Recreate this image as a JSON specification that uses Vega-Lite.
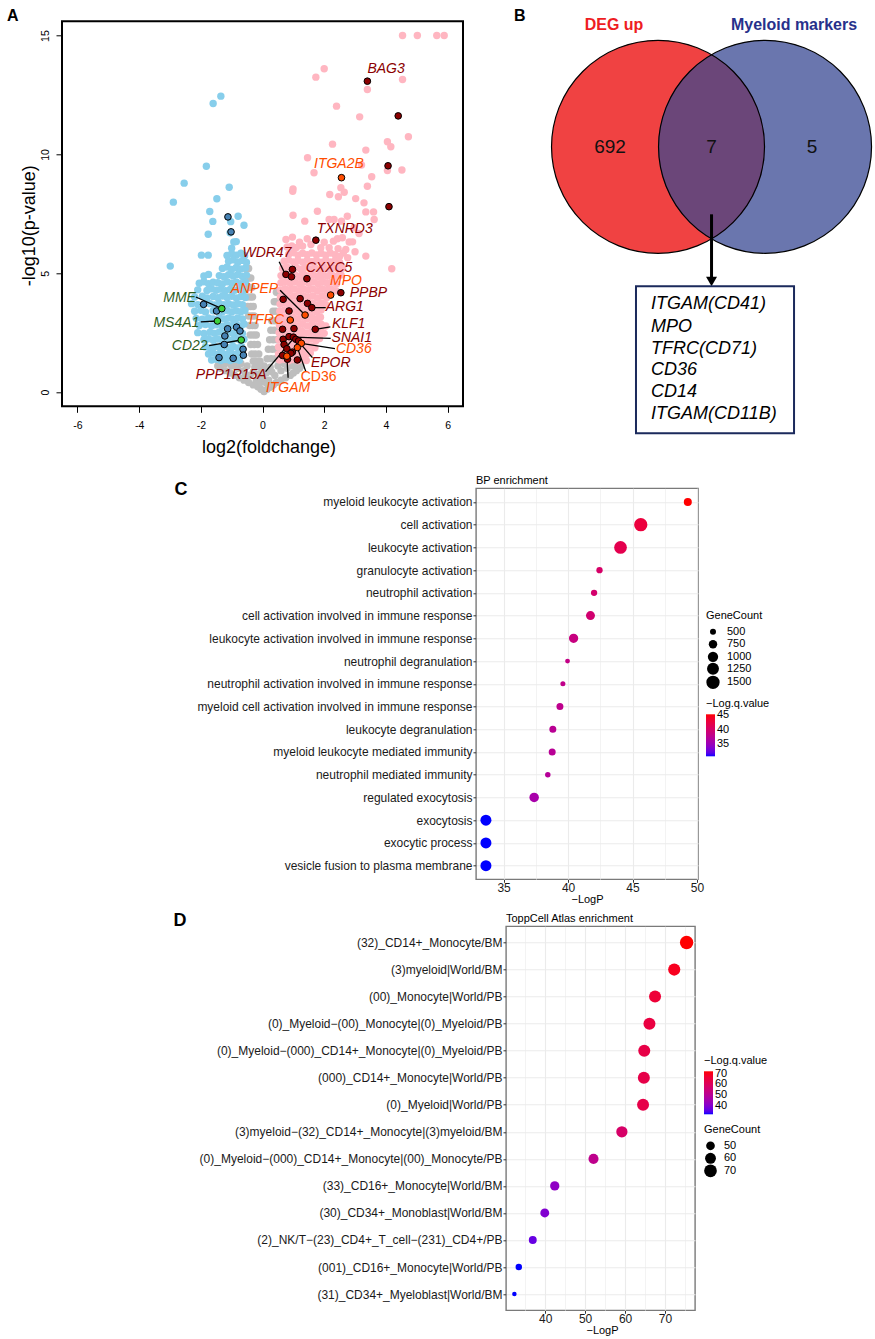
{
"$schema": "https://vega.github.io/schema/vega-lite/v6.json",
"padding": {"left": 6, "top": 6.3, "right": 0, "bottom": 0},
"background": "white",
"config": {"font": "Liberation Sans", "view": {"stroke": null}},
"spacing": 0,
"resolve": {"scale": {"color": "independent", "size": "independent", "x": "independent", "y": "independent"}, "legend": {"color": "independent", "size": "independent"}},
"datasets": {
"volcano": [
{"fc":0.05,"lp":0.02,"g":"ns"},{"fc":-0.05,"lp":0.12,"g":"ns"},{"fc":0.15,"lp":0.12,"g":"ns"},{"fc":-0.15,"lp":0.22,"g":"ns"},{"fc":0.25,"lp":0.2,"g":"ns"},{"fc":-0.3,"lp":0.3,"g":"ns"},{"fc":0.35,"lp":0.3,"g":"ns"},{"fc":-0.45,"lp":0.4,"g":"ns"},{"fc":0.45,"lp":0.4,"g":"ns"},{"fc":-0.6,"lp":0.5,"g":"ns"},{"fc":0.6,"lp":0.5,"g":"ns"},{"fc":-0.75,"lp":0.6,"g":"ns"},{"fc":0.75,"lp":0.6,"g":"ns"},{"fc":-0.9,"lp":0.7,"g":"ns"},{"fc":0.9,"lp":0.7,"g":"ns"},{"fc":-1.05,"lp":0.8,"g":"ns"},{"fc":1.0,"lp":0.8,"g":"ns"},{"fc":-1.2,"lp":0.9,"g":"ns"},{"fc":1.1,"lp":0.9,"g":"ns"},{"fc":-1.35,"lp":1.0,"g":"ns"},{"fc":1.2,"lp":1.0,"g":"ns"},{"fc":-1.45,"lp":1.1,"g":"ns"},{"fc":1.25,"lp":1.1,"g":"ns"},{"fc":-0.2,"lp":0.5,"g":"ns"},{"fc":0.2,"lp":0.5,"g":"ns"},{"fc":-0.4,"lp":0.7,"g":"ns"},{"fc":0.4,"lp":0.7,"g":"ns"},{"fc":-0.6,"lp":0.9,"g":"ns"},{"fc":0.6,"lp":0.9,"g":"ns"},{"fc":-0.8,"lp":1.0,"g":"ns"},{"fc":0.8,"lp":1.0,"g":"ns"},{"fc":-1.0,"lp":1.1,"g":"ns"},{"fc":1.0,"lp":1.1,"g":"ns"},{"fc":-1.2,"lp":1.2,"g":"ns"},{"fc":-0.3,"lp":0.85,"g":"ns"},{"fc":0.3,"lp":0.85,"g":"ns"},{"fc":-0.5,"lp":1.1,"g":"ns"},{"fc":0.5,"lp":1.1,"g":"ns"},{"fc":-0.7,"lp":1.2,"g":"ns"},{"fc":0.7,"lp":1.2,"g":"ns"},{"fc":-0.9,"lp":1.25,"g":"ns"},{"fc":0.95,"lp":1.2,"g":"ns"},{"fc":-0.1,"lp":0.35,"g":"ns"},{"fc":0.1,"lp":0.4,"g":"ns"},{"fc":-0.55,"lp":0.75,"g":"ns"},{"fc":1.15,"lp":1.25,"g":"ns"},{"fc":-1.4,"lp":1.25,"g":"ns"},{"fc":-0.25,"lp":1.05,"g":"ns"},{"fc":0.25,"lp":1.05,"g":"ns"},{"fc":0.0,"lp":0.6,"g":"ns"},{"fc":0.0,"lp":0.9,"g":"ns"},{"fc":0.05,"lp":1.1,"g":"ns"},{"fc":-0.12,"lp":0.75,"g":"ns"},{"fc":0.12,"lp":0.8,"g":"ns"},{"fc":-0.1,"lp":1.05,"g":"ns"},
{"fc":-0.55,"lp":5.2,"g":"ns"},{"fc":-0.45,"lp":5.2,"g":"ns"},{"fc":-0.55,"lp":4.8,"g":"ns"},{"fc":-0.45,"lp":4.8,"g":"ns"},{"fc":-0.38,"lp":4.8,"g":"ns"},{"fc":-0.52,"lp":4.4,"g":"ns"},{"fc":-0.42,"lp":4.4,"g":"ns"},{"fc":-0.35,"lp":4.4,"g":"ns"},{"fc":-0.5,"lp":4.0,"g":"ns"},{"fc":-0.4,"lp":4.0,"g":"ns"},{"fc":-0.32,"lp":4.0,"g":"ns"},{"fc":-0.48,"lp":3.6,"g":"ns"},{"fc":-0.38,"lp":3.6,"g":"ns"},{"fc":-0.3,"lp":3.6,"g":"ns"},{"fc":-0.45,"lp":3.2,"g":"ns"},{"fc":-0.35,"lp":3.2,"g":"ns"},{"fc":-0.27,"lp":3.2,"g":"ns"},{"fc":-0.42,"lp":2.8,"g":"ns"},{"fc":-0.32,"lp":2.8,"g":"ns"},{"fc":-0.24,"lp":2.8,"g":"ns"},{"fc":-0.4,"lp":2.4,"g":"ns"},{"fc":-0.3,"lp":2.4,"g":"ns"},{"fc":-0.2,"lp":2.4,"g":"ns"},{"fc":-0.38,"lp":2.0,"g":"ns"},{"fc":-0.27,"lp":2.0,"g":"ns"},{"fc":-0.16,"lp":2.0,"g":"ns"},{"fc":-0.35,"lp":1.6,"g":"ns"},{"fc":-0.24,"lp":1.6,"g":"ns"},{"fc":-0.12,"lp":1.6,"g":"ns"},{"fc":-0.3,"lp":1.3,"g":"ns"},{"fc":-0.2,"lp":1.3,"g":"ns"},{"fc":-0.08,"lp":1.3,"g":"ns"},
{"fc":0.55,"lp":4.2,"g":"ns"},{"fc":0.45,"lp":4.2,"g":"ns"},{"fc":0.55,"lp":3.8,"g":"ns"},{"fc":0.45,"lp":3.8,"g":"ns"},{"fc":0.38,"lp":3.8,"g":"ns"},{"fc":0.55,"lp":3.4,"g":"ns"},{"fc":0.43,"lp":3.4,"g":"ns"},{"fc":0.34,"lp":3.4,"g":"ns"},{"fc":0.52,"lp":3.0,"g":"ns"},{"fc":0.4,"lp":3.0,"g":"ns"},{"fc":0.3,"lp":3.0,"g":"ns"},{"fc":0.5,"lp":2.6,"g":"ns"},{"fc":0.38,"lp":2.6,"g":"ns"},{"fc":0.27,"lp":2.6,"g":"ns"},{"fc":0.47,"lp":2.2,"g":"ns"},{"fc":0.35,"lp":2.2,"g":"ns"},{"fc":0.23,"lp":2.2,"g":"ns"},{"fc":0.45,"lp":1.8,"g":"ns"},{"fc":0.32,"lp":1.8,"g":"ns"},{"fc":0.19,"lp":1.8,"g":"ns"},{"fc":0.42,"lp":1.4,"g":"ns"},{"fc":0.28,"lp":1.4,"g":"ns"},{"fc":0.15,"lp":1.4,"g":"ns"},
{"fc":-1.6,"lp":12.14,"g":"down"},{"fc":-1.35,"lp":12.45,"g":"down"},{"fc":-1.82,"lp":9.5,"g":"down"},{"fc":-2.54,"lp":8.79,"g":"down"},{"fc":-2.89,"lp":7.99,"g":"down"},{"fc":-1.48,"lp":8.13,"g":"down"},{"fc":-1.08,"lp":8.62,"g":"down"},{"fc":-1.71,"lp":7.6,"g":"down"},{"fc":-1.61,"lp":7.18,"g":"down"},{"fc":-0.79,"lp":7.4,"g":"down"},{"fc":-0.6,"lp":7.02,"g":"down"},{"fc":-1.76,"lp":6.64,"g":"down"},{"fc":-1.05,"lp":6.7,"g":"down"},{"fc":-1.03,"lp":7.17,"g":"down"},{"fc":-0.93,"lp":6.31,"g":"down"},{"fc":-0.85,"lp":6.33,"g":"down"},{"fc":-1.98,"lp":5.76,"g":"down"},{"fc":-1.76,"lp":5.76,"g":"down"},{"fc":-2.99,"lp":5.3,"g":"down"},{"fc":-1.15,"lp":5.75,"g":"down"},{"fc":-1.0,"lp":6.05,"g":"down"},
{"fc":-1.0,"lp":5.82,"g":"down"},{"fc":-0.85,"lp":5.76,"g":"down"},{"fc":-0.7,"lp":5.84,"g":"down"},{"fc":-0.58,"lp":5.74,"g":"down"},
{"fc":-1.1,"lp":5.5,"g":"down"},{"fc":-0.95,"lp":5.56,"g":"down"},{"fc":-0.8,"lp":5.46,"g":"down"},{"fc":-0.65,"lp":5.54,"g":"down"},{"fc":-0.52,"lp":5.45,"g":"down"},
{"fc":-1.3,"lp":5.2,"g":"down"},{"fc":-1.15,"lp":5.26,"g":"down"},{"fc":-1.0,"lp":5.16,"g":"down"},{"fc":-0.85,"lp":5.24,"g":"down"},{"fc":-0.7,"lp":5.18,"g":"down"},{"fc":-0.55,"lp":5.22,"g":"down"},
{"fc":-1.9,"lp":4.88,"g":"down"},{"fc":-1.75,"lp":4.95,"g":"down"},{"fc":-1.4,"lp":4.9,"g":"down"},{"fc":-1.25,"lp":4.85,"g":"down"},{"fc":-1.1,"lp":4.94,"g":"down"},{"fc":-0.95,"lp":4.88,"g":"down"},{"fc":-0.8,"lp":4.95,"g":"down"},{"fc":-0.65,"lp":4.86,"g":"down"},{"fc":-0.52,"lp":4.92,"g":"down"},
{"fc":-2.05,"lp":4.58,"g":"down"},{"fc":-1.9,"lp":4.64,"g":"down"},{"fc":-1.75,"lp":4.56,"g":"down"},{"fc":-1.6,"lp":4.62,"g":"down"},{"fc":-1.45,"lp":4.6,"g":"down"},{"fc":-1.3,"lp":4.55,"g":"down"},{"fc":-1.15,"lp":4.64,"g":"down"},{"fc":-1.0,"lp":4.58,"g":"down"},{"fc":-0.85,"lp":4.63,"g":"down"},{"fc":-0.7,"lp":4.56,"g":"down"},{"fc":-0.55,"lp":4.62,"g":"down"},
{"fc":-2.1,"lp":4.3,"g":"down"},{"fc":-1.8,"lp":4.27,"g":"down"},{"fc":-1.65,"lp":4.34,"g":"down"},{"fc":-1.5,"lp":4.28,"g":"down"},{"fc":-1.35,"lp":4.33,"g":"down"},{"fc":-1.2,"lp":4.26,"g":"down"},{"fc":-1.05,"lp":4.32,"g":"down"},{"fc":-0.9,"lp":4.28,"g":"down"},{"fc":-0.75,"lp":4.34,"g":"down"},{"fc":-0.6,"lp":4.27,"g":"down"},
{"fc":-2.2,"lp":4.0,"g":"down"},{"fc":-1.95,"lp":4.03,"g":"down"},{"fc":-1.8,"lp":3.96,"g":"down"},{"fc":-1.6,"lp":4.02,"g":"down"},{"fc":-1.45,"lp":3.97,"g":"down"},{"fc":-1.3,"lp":4.04,"g":"down"},{"fc":-1.15,"lp":3.98,"g":"down"},{"fc":-1.0,"lp":4.03,"g":"down"},{"fc":-0.85,"lp":3.96,"g":"down"},{"fc":-0.7,"lp":4.02,"g":"down"},{"fc":-0.56,"lp":3.98,"g":"down"},
{"fc":-2.3,"lp":3.72,"g":"down"},{"fc":-2.1,"lp":3.68,"g":"down"},{"fc":-1.7,"lp":3.72,"g":"down"},{"fc":-1.55,"lp":3.66,"g":"down"},{"fc":-1.4,"lp":3.73,"g":"down"},{"fc":-1.25,"lp":3.68,"g":"down"},{"fc":-1.1,"lp":3.72,"g":"down"},{"fc":-0.95,"lp":3.66,"g":"down"},{"fc":-0.8,"lp":3.72,"g":"down"},{"fc":-0.65,"lp":3.68,"g":"down"},
{"fc":-2.2,"lp":3.4,"g":"down"},{"fc":-2.0,"lp":3.44,"g":"down"},{"fc":-1.85,"lp":3.37,"g":"down"},{"fc":-1.6,"lp":3.42,"g":"down"},{"fc":-1.3,"lp":3.38,"g":"down"},{"fc":-1.15,"lp":3.44,"g":"down"},{"fc":-1.0,"lp":3.37,"g":"down"},{"fc":-0.85,"lp":3.42,"g":"down"},{"fc":-0.7,"lp":3.38,"g":"down"},{"fc":-0.57,"lp":3.43,"g":"down"},
{"fc":-2.15,"lp":3.1,"g":"down"},{"fc":-1.95,"lp":3.06,"g":"down"},{"fc":-1.75,"lp":3.12,"g":"down"},{"fc":-1.6,"lp":3.07,"g":"down"},{"fc":-1.4,"lp":3.13,"g":"down"},{"fc":-1.25,"lp":3.08,"g":"down"},{"fc":-1.1,"lp":3.12,"g":"down"},{"fc":-0.95,"lp":3.06,"g":"down"},{"fc":-0.8,"lp":3.12,"g":"down"},{"fc":-0.65,"lp":3.08,"g":"down"},
{"fc":-2.05,"lp":2.8,"g":"down"},{"fc":-1.85,"lp":2.84,"g":"down"},{"fc":-1.65,"lp":2.78,"g":"down"},{"fc":-1.5,"lp":2.83,"g":"down"},{"fc":-1.3,"lp":2.77,"g":"down"},{"fc":-1.15,"lp":2.83,"g":"down"},{"fc":-1.0,"lp":2.79,"g":"down"},{"fc":-0.85,"lp":2.84,"g":"down"},{"fc":-0.7,"lp":2.78,"g":"down"},{"fc":-0.6,"lp":2.86,"g":"down"},
{"fc":-2.1,"lp":2.5,"g":"down"},{"fc":-1.9,"lp":2.46,"g":"down"},{"fc":-1.7,"lp":2.52,"g":"down"},{"fc":-1.55,"lp":2.47,"g":"down"},{"fc":-1.4,"lp":2.53,"g":"down"},{"fc":-1.25,"lp":2.47,"g":"down"},{"fc":-1.1,"lp":2.52,"g":"down"},{"fc":-0.95,"lp":2.46,"g":"down"},{"fc":-0.8,"lp":2.52,"g":"down"},{"fc":-0.65,"lp":2.47,"g":"down"},
{"fc":-1.9,"lp":2.2,"g":"down"},{"fc":-1.75,"lp":2.24,"g":"down"},{"fc":-1.6,"lp":2.18,"g":"down"},{"fc":-1.45,"lp":2.23,"g":"down"},{"fc":-1.3,"lp":2.17,"g":"down"},{"fc":-1.15,"lp":2.23,"g":"down"},{"fc":-1.0,"lp":2.18,"g":"down"},{"fc":-0.85,"lp":2.24,"g":"down"},{"fc":-0.72,"lp":2.18,"g":"down"},{"fc":-0.6,"lp":2.22,"g":"down"},
{"fc":-1.85,"lp":1.9,"g":"down"},{"fc":-1.7,"lp":1.86,"g":"down"},{"fc":-1.55,"lp":1.92,"g":"down"},{"fc":-1.4,"lp":1.87,"g":"down"},{"fc":-1.25,"lp":1.93,"g":"down"},{"fc":-1.1,"lp":1.87,"g":"down"},{"fc":-0.95,"lp":1.92,"g":"down"},{"fc":-0.8,"lp":1.86,"g":"down"},{"fc":-0.68,"lp":1.92,"g":"down"},
{"fc":-1.75,"lp":1.6,"g":"down"},{"fc":-1.6,"lp":1.64,"g":"down"},{"fc":-1.45,"lp":1.58,"g":"down"},{"fc":-1.3,"lp":1.63,"g":"down"},{"fc":-1.15,"lp":1.58,"g":"down"},{"fc":-1.0,"lp":1.63,"g":"down"},{"fc":-0.85,"lp":1.58,"g":"down"},{"fc":-0.72,"lp":1.64,"g":"down"},
{"fc":-1.65,"lp":1.35,"g":"down"},{"fc":-1.5,"lp":1.38,"g":"down"},{"fc":-1.35,"lp":1.33,"g":"down"},{"fc":-1.2,"lp":1.37,"g":"down"},{"fc":-1.05,"lp":1.33,"g":"down"},{"fc":-0.9,"lp":1.38,"g":"down"},{"fc":-0.75,"lp":1.34,"g":"down"},
{"fc":4.54,"lp":15,"g":"up"},{"fc":5.02,"lp":15,"g":"up"},{"fc":5.65,"lp":15,"g":"up"},{"fc":5.89,"lp":15,"g":"up"},{"fc":2.0,"lp":13.6,"g":"up"},{"fc":1.73,"lp":13.25,"g":"up"},{"fc":3.4,"lp":12.73,"g":"up"},{"fc":4.54,"lp":13.15,"g":"up"},{"fc":2.4,"lp":12.03,"g":"up"},{"fc":3.15,"lp":11.58,"g":"up"},{"fc":4.73,"lp":10.74,"g":"up"},{"fc":2.27,"lp":10.43,"g":"up"},{"fc":4.05,"lp":10.53,"g":"up"},{"fc":4.16,"lp":10.32,"g":"up"},{"fc":3.35,"lp":10.18,"g":"up"},{"fc":1.46,"lp":9.86,"g":"up"},{"fc":3.21,"lp":9.55,"g":"up"},{"fc":1.67,"lp":9.23,"g":"up"},{"fc":3.54,"lp":9.06,"g":"up"},{"fc":4.05,"lp":9.32,"g":"up"},{"fc":4.52,"lp":9.34,"g":"up"},{"fc":2.54,"lp":8.6,"g":"up"},{"fc":2.65,"lp":8.41,"g":"up"},{"fc":0.99,"lp":8.55,"g":"up"},{"fc":0.98,"lp":8.45,"g":"up"},{"fc":2.18,"lp":8.31,"g":"up"},{"fc":2.46,"lp":8.22,"g":"up"},{"fc":3.02,"lp":8.14,"g":"up"},{"fc":3.29,"lp":7.96,"g":"up"},{"fc":3.35,"lp":7.58,"g":"up"},{"fc":3.6,"lp":7.58,"g":"up"},{"fc":3.62,"lp":7.26,"g":"up"},{"fc":0.99,"lp":7.44,"g":"up"},{"fc":1.37,"lp":7.19,"g":"up"},{"fc":2.16,"lp":7.26,"g":"up"},{"fc":2.56,"lp":7.19,"g":"up"},{"fc":2.97,"lp":6.91,"g":"up"},{"fc":3.13,"lp":6.67,"g":"up"},{"fc":2.43,"lp":6.45,"g":"up"},{"fc":2.81,"lp":6.31,"g":"up"},{"fc":0.76,"lp":6.42,"g":"up"},{"fc":0.97,"lp":6.52,"g":"up"},{"fc":1.3,"lp":6.14,"g":"up"},{"fc":1.57,"lp":6.21,"g":"up"},{"fc":1.89,"lp":6.07,"g":"up"},{"fc":2.16,"lp":6.07,"g":"up"},{"fc":2.45,"lp":6.03,"g":"up"},{"fc":3.35,"lp":5.72,"g":"up"},{"fc":2.76,"lp":5.65,"g":"up"},{"fc":4.19,"lp":5.19,"g":"up"},{"fc":2.62,"lp":5.85,"g":"up"},{"fc":1.2,"lp":6.3,"g":"up"},{"fc":1.45,"lp":6.45,"g":"up"},{"fc":2.0,"lp":6.3,"g":"up"},{"fc":2.3,"lp":6.35,"g":"up"},{"fc":2.7,"lp":6.0,"g":"up"},{"fc":3.0,"lp":5.9,"g":"up"},{"fc":1.78,"lp":7.61,"g":"up"},{"fc":2.32,"lp":7.26,"g":"up"},{"fc":2.75,"lp":7.4,"g":"up"},{"fc":3.4,"lp":8.66,"g":"up"},{"fc":2.59,"lp":6.49,"g":"up"},{"fc":2.92,"lp":6.32,"g":"up"},
{"fc":0.8,"lp":6.1,"g":"up"},{"fc":0.95,"lp":6.15,"g":"up"},{"fc":1.1,"lp":6.08,"g":"up"},
{"fc":0.85,"lp":5.8,"g":"up"},{"fc":1.0,"lp":5.86,"g":"up"},{"fc":1.15,"lp":5.76,"g":"up"},{"fc":1.3,"lp":5.84,"g":"up"},{"fc":1.45,"lp":5.78,"g":"up"},{"fc":1.6,"lp":5.85,"g":"up"},{"fc":1.75,"lp":5.77,"g":"up"},{"fc":1.9,"lp":5.84,"g":"up"},{"fc":2.05,"lp":5.76,"g":"up"},{"fc":2.2,"lp":5.85,"g":"up"},{"fc":2.35,"lp":5.78,"g":"up"},{"fc":2.5,"lp":5.7,"g":"up"},
{"fc":0.7,"lp":5.5,"g":"up"},{"fc":0.85,"lp":5.55,"g":"up"},{"fc":1.0,"lp":5.47,"g":"up"},{"fc":1.15,"lp":5.54,"g":"up"},{"fc":1.3,"lp":5.46,"g":"up"},{"fc":1.45,"lp":5.55,"g":"up"},{"fc":1.6,"lp":5.48,"g":"up"},{"fc":1.75,"lp":5.54,"g":"up"},{"fc":1.9,"lp":5.46,"g":"up"},{"fc":2.05,"lp":5.55,"g":"up"},{"fc":2.2,"lp":5.47,"g":"up"},{"fc":2.35,"lp":5.53,"g":"up"},{"fc":2.5,"lp":5.45,"g":"up"},
{"fc":0.65,"lp":5.2,"g":"up"},{"fc":0.8,"lp":5.25,"g":"up"},{"fc":0.95,"lp":5.17,"g":"up"},{"fc":1.1,"lp":5.24,"g":"up"},{"fc":1.25,"lp":5.16,"g":"up"},{"fc":1.4,"lp":5.25,"g":"up"},{"fc":1.55,"lp":5.18,"g":"up"},{"fc":1.7,"lp":5.24,"g":"up"},{"fc":1.85,"lp":5.16,"g":"up"},{"fc":2.0,"lp":5.25,"g":"up"},{"fc":2.15,"lp":5.17,"g":"up"},{"fc":2.3,"lp":5.23,"g":"up"},{"fc":2.45,"lp":5.16,"g":"up"},{"fc":2.6,"lp":5.22,"g":"up"},
{"fc":0.6,"lp":4.9,"g":"up"},{"fc":0.75,"lp":4.95,"g":"up"},{"fc":0.9,"lp":4.87,"g":"up"},{"fc":1.05,"lp":4.94,"g":"up"},{"fc":1.2,"lp":4.86,"g":"up"},{"fc":1.35,"lp":4.95,"g":"up"},{"fc":1.5,"lp":4.88,"g":"up"},{"fc":1.65,"lp":4.94,"g":"up"},{"fc":1.8,"lp":4.86,"g":"up"},{"fc":1.95,"lp":4.95,"g":"up"},{"fc":2.1,"lp":4.87,"g":"up"},{"fc":2.25,"lp":4.93,"g":"up"},{"fc":2.4,"lp":4.86,"g":"up"},{"fc":2.55,"lp":4.92,"g":"up"},
{"fc":0.6,"lp":4.6,"g":"up"},{"fc":0.75,"lp":4.65,"g":"up"},{"fc":0.9,"lp":4.57,"g":"up"},{"fc":1.05,"lp":4.64,"g":"up"},{"fc":1.2,"lp":4.56,"g":"up"},{"fc":1.35,"lp":4.65,"g":"up"},{"fc":1.5,"lp":4.58,"g":"up"},{"fc":1.65,"lp":4.64,"g":"up"},{"fc":1.8,"lp":4.56,"g":"up"},{"fc":1.95,"lp":4.65,"g":"up"},{"fc":2.1,"lp":4.57,"g":"up"},{"fc":2.25,"lp":4.63,"g":"up"},{"fc":2.4,"lp":4.56,"g":"up"},
{"fc":0.58,"lp":4.3,"g":"up"},{"fc":0.73,"lp":4.35,"g":"up"},{"fc":0.88,"lp":4.27,"g":"up"},{"fc":1.03,"lp":4.34,"g":"up"},{"fc":1.18,"lp":4.26,"g":"up"},{"fc":1.33,"lp":4.35,"g":"up"},{"fc":1.48,"lp":4.28,"g":"up"},{"fc":1.63,"lp":4.34,"g":"up"},{"fc":1.78,"lp":4.26,"g":"up"},{"fc":1.93,"lp":4.35,"g":"up"},{"fc":2.08,"lp":4.27,"g":"up"},{"fc":2.23,"lp":4.33,"g":"up"},{"fc":2.38,"lp":4.26,"g":"up"},
{"fc":0.58,"lp":4.0,"g":"up"},{"fc":0.73,"lp":4.05,"g":"up"},{"fc":0.88,"lp":3.97,"g":"up"},{"fc":1.03,"lp":4.04,"g":"up"},{"fc":1.18,"lp":3.96,"g":"up"},{"fc":1.33,"lp":4.05,"g":"up"},{"fc":1.48,"lp":3.98,"g":"up"},{"fc":1.63,"lp":4.04,"g":"up"},{"fc":1.78,"lp":3.96,"g":"up"},{"fc":1.93,"lp":4.05,"g":"up"},{"fc":2.08,"lp":3.97,"g":"up"},
{"fc":0.57,"lp":3.7,"g":"up"},{"fc":0.72,"lp":3.75,"g":"up"},{"fc":0.87,"lp":3.67,"g":"up"},{"fc":1.02,"lp":3.74,"g":"up"},{"fc":1.17,"lp":3.66,"g":"up"},{"fc":1.32,"lp":3.75,"g":"up"},{"fc":1.47,"lp":3.68,"g":"up"},{"fc":1.62,"lp":3.74,"g":"up"},{"fc":1.77,"lp":3.66,"g":"up"},{"fc":1.92,"lp":3.75,"g":"up"},{"fc":2.05,"lp":3.67,"g":"up"},
{"fc":0.56,"lp":3.4,"g":"up"},{"fc":0.71,"lp":3.45,"g":"up"},{"fc":0.86,"lp":3.37,"g":"up"},{"fc":1.01,"lp":3.44,"g":"up"},{"fc":1.16,"lp":3.36,"g":"up"},{"fc":1.31,"lp":3.45,"g":"up"},{"fc":1.46,"lp":3.38,"g":"up"},{"fc":1.61,"lp":3.44,"g":"up"},{"fc":1.76,"lp":3.36,"g":"up"},{"fc":1.9,"lp":3.45,"g":"up"},
{"fc":0.55,"lp":3.1,"g":"up"},{"fc":0.7,"lp":3.15,"g":"up"},{"fc":0.85,"lp":3.07,"g":"up"},{"fc":1.0,"lp":3.14,"g":"up"},{"fc":1.15,"lp":3.06,"g":"up"},{"fc":1.3,"lp":3.15,"g":"up"},{"fc":1.45,"lp":3.08,"g":"up"},{"fc":1.6,"lp":3.14,"g":"up"},{"fc":1.75,"lp":3.06,"g":"up"},{"fc":1.88,"lp":3.15,"g":"up"},
{"fc":0.55,"lp":2.8,"g":"up"},{"fc":0.7,"lp":2.85,"g":"up"},{"fc":0.85,"lp":2.77,"g":"up"},{"fc":1.0,"lp":2.84,"g":"up"},{"fc":1.15,"lp":2.76,"g":"up"},{"fc":1.3,"lp":2.85,"g":"up"},{"fc":1.45,"lp":2.78,"g":"up"},{"fc":1.6,"lp":2.84,"g":"up"},{"fc":1.75,"lp":2.76,"g":"up"},{"fc":1.9,"lp":2.85,"g":"up"},{"fc":2.05,"lp":2.78,"g":"up"},
{"fc":0.54,"lp":2.5,"g":"up"},{"fc":0.69,"lp":2.55,"g":"up"},{"fc":0.84,"lp":2.47,"g":"up"},{"fc":0.99,"lp":2.54,"g":"up"},{"fc":1.14,"lp":2.46,"g":"up"},{"fc":1.29,"lp":2.55,"g":"up"},{"fc":1.44,"lp":2.48,"g":"up"},{"fc":1.59,"lp":2.54,"g":"up"},{"fc":1.74,"lp":2.46,"g":"up"},{"fc":1.89,"lp":2.55,"g":"up"},{"fc":2.0,"lp":2.47,"g":"up"},
{"fc":0.53,"lp":2.2,"g":"up"},{"fc":0.68,"lp":2.25,"g":"up"},{"fc":0.83,"lp":2.17,"g":"up"},{"fc":0.98,"lp":2.24,"g":"up"},{"fc":1.13,"lp":2.16,"g":"up"},{"fc":1.28,"lp":2.25,"g":"up"},{"fc":1.43,"lp":2.18,"g":"up"},{"fc":1.58,"lp":2.24,"g":"up"},{"fc":1.73,"lp":2.16,"g":"up"},{"fc":1.85,"lp":2.25,"g":"up"},
{"fc":0.52,"lp":1.9,"g":"up"},{"fc":0.67,"lp":1.95,"g":"up"},{"fc":0.82,"lp":1.87,"g":"up"},{"fc":0.97,"lp":1.94,"g":"up"},{"fc":1.12,"lp":1.86,"g":"up"},{"fc":1.27,"lp":1.95,"g":"up"},{"fc":1.42,"lp":1.88,"g":"up"},{"fc":1.57,"lp":1.94,"g":"up"},{"fc":1.7,"lp":1.86,"g":"up"},
{"fc":0.52,"lp":1.6,"g":"up"},{"fc":0.67,"lp":1.65,"g":"up"},{"fc":0.82,"lp":1.57,"g":"up"},{"fc":0.97,"lp":1.64,"g":"up"},{"fc":1.12,"lp":1.56,"g":"up"},{"fc":1.27,"lp":1.65,"g":"up"},{"fc":1.42,"lp":1.58,"g":"up"},{"fc":1.55,"lp":1.64,"g":"up"},
{"fc":0.55,"lp":1.35,"g":"up"},{"fc":0.7,"lp":1.38,"g":"up"},{"fc":0.85,"lp":1.32,"g":"up"},{"fc":1.0,"lp":1.37,"g":"up"},{"fc":1.15,"lp":1.32,"g":"up"},{"fc":1.3,"lp":1.38,"g":"up"},{"fc":1.42,"lp":1.33,"g":"up"},
{"fc":-1.12,"lp":7.37,"g":"downhl"},{"fc":-1.02,"lp":6.74,"g":"downhl"},{"fc":-1.91,"lp":3.69,"g":"downhl"},{"fc":-1.49,"lp":3.41,"g":"downhl"},{"fc":-1.13,"lp":2.66,"g":"downhl"},{"fc":-0.84,"lp":2.73,"g":"downhl"},{"fc":-0.73,"lp":2.57,"g":"downhl"},{"fc":-1.22,"lp":2.36,"g":"downhl"},{"fc":-1.24,"lp":2.0,"g":"downhl"},{"fc":-0.63,"lp":1.8,"g":"downhl"},{"fc":-0.62,"lp":1.55,"g":"downhl"},{"fc":-1.41,"lp":1.45,"g":"downhl"},{"fc":-0.95,"lp":1.42,"g":"downhl"},
{"fc":-1.32,"lp":3.51,"g":"marker"},{"fc":-1.46,"lp":2.99,"g":"marker"},{"fc":-0.69,"lp":2.19,"g":"marker"},
{"fc":3.4,"lp":13.08,"g":"uphl"},{"fc":4.4,"lp":11.62,"g":"uphl"},{"fc":4.07,"lp":9.52,"g":"uphl"},{"fc":4.1,"lp":7.8,"g":"uphl"},{"fc":1.73,"lp":6.39,"g":"uphl"},{"fc":0.76,"lp":4.95,"g":"uphl"},{"fc":0.97,"lp":5.16,"g":"uphl"},{"fc":0.94,"lp":4.85,"g":"uphl"},{"fc":1.44,"lp":4.77,"g":"uphl"},{"fc":2.54,"lp":4.18,"g":"uphl"},{"fc":0.67,"lp":3.9,"g":"uphl"},{"fc":1.22,"lp":3.93,"g":"uphl"},{"fc":1.46,"lp":3.73,"g":"uphl"},{"fc":1.6,"lp":3.55,"g":"uphl"},{"fc":0.86,"lp":3.41,"g":"uphl"},{"fc":0.65,"lp":2.64,"g":"uphl"},{"fc":1.02,"lp":2.67,"g":"uphl"},{"fc":1.71,"lp":2.64,"g":"uphl"},{"fc":0.67,"lp":2.22,"g":"uphl"},{"fc":0.86,"lp":2.33,"g":"uphl"},{"fc":1.0,"lp":2.31,"g":"uphl"},{"fc":0.7,"lp":2.0,"g":"uphl"},{"fc":1.08,"lp":2.22,"g":"uphl"},{"fc":1.17,"lp":2.15,"g":"uphl"},{"fc":0.79,"lp":1.82,"g":"uphl"},{"fc":0.65,"lp":1.54,"g":"uphl"},{"fc":0.97,"lp":1.68,"g":"uphl"},{"fc":0.81,"lp":1.38,"g":"uphl"},{"fc":1.13,"lp":1.35,"g":"uphl"},{"fc":0.92,"lp":1.63,"g":"uphl"},
{"fc":2.56,"lp":9.02,"g":"mye"},{"fc":2.21,"lp":4.08,"g":"mye"},{"fc":1.38,"lp":3.24,"g":"mye"},{"fc":0.9,"lp":3.03,"g":"mye"},{"fc":1.26,"lp":2.05,"g":"mye"},{"fc":1.13,"lp":1.87,"g":"mye"},{"fc":0.79,"lp":1.51,"g":"mye"}
],
"segs": [
{"gene":"WDR47","fc":0.54,"lp":5.48,"fc2":0.74,"lp2":4.95},
{"gene":"ANPEP","fc":0.57,"lp":4.28,"fc2":1.38,"lp2":3.24},
{"gene":"ARG1","fc":2.05,"lp":3.55,"fc2":1.6,"lp2":3.55},
{"gene":"KLF1","fc":2.2,"lp":2.74,"fc2":1.71,"lp2":2.64},
{"gene":"SNAI1","fc":2.21,"lp":2.26,"fc2":1.0,"lp2":2.31},
{"gene":"CD36","fc":2.35,"lp":1.83,"fc2":1.26,"lp2":2.05},
{"gene":"EPOR","fc":1.62,"lp":1.45,"fc2":1.22,"lp2":2.05},
{"gene":"CD36","fc":1.4,"lp":0.88,"fc2":1.13,"lp2":1.87},
{"gene":"PPP1R15A","fc":0.1,"lp":0.86,"fc2":0.97,"lp2":2.2},
{"gene":"ITGAM","fc":0.83,"lp":0.6,"fc2":0.79,"lp2":1.51},
{"gene":"MME","fc":-2.16,"lp":4.0,"fc2":-1.32,"lp2":3.51},
{"gene":"MS4A1","fc":-2.0,"lp":2.95,"fc2":-1.46,"lp2":2.99},
{"gene":"CD22","fc":-1.73,"lp":1.95,"fc2":-0.69,"lp2":2.19}
],
"labs": [
{"gene":"BAG3","fc":3.4,"lp":13.6,"g":"uphl","al":"l","st":"i"},
{"gene":"ITGA2B","fc":1.67,"lp":9.58,"g":"mye","al":"l","st":"i"},
{"gene":"TXNRD3","fc":1.76,"lp":6.84,"g":"uphl","al":"l","st":"i"},
{"gene":"WDR47","fc":-0.65,"lp":5.86,"g":"uphl","al":"l","st":"i"},
{"gene":"CXXC5","fc":1.4,"lp":5.23,"g":"uphl","al":"l","st":"i"},
{"gene":"MPO","fc":2.19,"lp":4.67,"g":"mye","al":"l","st":"i"},
{"gene":"PPBP","fc":2.83,"lp":4.18,"g":"uphl","al":"l","st":"i"},
{"gene":"ANPEP","fc":-1.03,"lp":4.35,"g":"mye","al":"l","st":"i"},
{"gene":"ARG1","fc":2.05,"lp":3.57,"g":"uphl","al":"l","st":"i"},
{"gene":"TFRC","fc":-0.51,"lp":3.03,"g":"mye","al":"l","st":"i"},
{"gene":"KLF1","fc":2.25,"lp":2.85,"g":"uphl","al":"l","st":"i"},
{"gene":"SNAI1","fc":2.24,"lp":2.29,"g":"uphl","al":"l","st":"i"},
{"gene":"CD36","fc":2.38,"lp":1.83,"g":"mye","al":"l","st":"i"},
{"gene":"EPOR","fc":1.57,"lp":1.24,"g":"uphl","al":"l","st":"i"},
{"gene":"CD36","fc":1.24,"lp":0.63,"g":"mye","al":"l","st":"n"},
{"gene":"PPP1R15A","fc":-2.16,"lp":0.7,"g":"uphl","al":"l","st":"i"},
{"gene":"ITGAM","fc":0.11,"lp":0.18,"g":"mye","al":"l","st":"i"},
{"gene":"MME","fc":-2.16,"lp":3.97,"g":"mkl","al":"r","st":"i"},
{"gene":"MS4A1","fc":-2.05,"lp":2.92,"g":"mkl","al":"r","st":"i"},
{"gene":"CD22","fc":-1.78,"lp":1.93,"g":"mkl","al":"r","st":"i"}
]
},
"vconcat": [
{"hconcat": [
{
"width": 401, "height": 385,
"view": {"stroke": "#000", "strokeWidth": 2},
"title": {"text": "A", "anchor": "start", "frame": "group", "dx": -55, "fontSize": 16, "fontWeight": "bold", "offset": -15.6, "baseline": "alphabetic", "color": "#000"},
"layer": [
{"data": {"name": "volcano"}, "transform": [{"filter": {"field": "g", "oneOf": ["ns", "down", "up"]}}],
 "mark": {"type": "circle", "size": 55, "opacity": 1},
 "encoding": {
  "x": {"field": "fc", "type": "quantitative", "scale": {"domain": [-6.5, 6.5], "nice": false, "zero": false},
   "axis": {"title": "log2(foldchange)", "values": [-6, -4, -2, 0, 2, 4, 6], "labelExpr": "'' + datum.value", "grid": false, "domain": false, "tickSize": 6, "tickColor": "#000", "tickWidth": 1, "labelFontSize": 10.5, "labelColor": "#000", "labelPadding": 8, "labelFlush": false, "titleFontSize": 18, "titleFontWeight": "normal", "titleColor": "#000", "titleX": 206.5, "titleY": 41.5, "titleBaseline": "middle", "titleAlign": "center"}},
  "y": {"field": "lp", "type": "quantitative", "scale": {"domain": [-0.6, 15.6], "nice": false, "zero": false},
   "axis": {"title": "-log10(p-value)", "values": [0, 5, 10, 15], "grid": false, "domain": false, "tickSize": 6, "tickColor": "#000", "tickWidth": 1, "labelFontSize": 10.5, "labelColor": "#000", "labelAngle": 270, "labelAlign": "center", "labelBaseline": "bottom", "labelPadding": 6, "labelFlush": false, "titleFontSize": 18, "titleFontWeight": "normal", "titleColor": "#000", "titleX": -33, "titleY": 204, "titleAngle": 270, "titleAlign": "center", "titleBaseline": "middle"}},
  "color": {"field": "g", "type": "nominal", "scale": {"domain": ["ns", "down", "up", "downhl", "marker", "uphl", "mye", "mkl"], "range": ["#BEBEBE", "#87CEEB", "#FFB6C1", "#4682B4", "#3CD03C", "#8B0000", "#FF4D00", "#2E5E1E"]}, "legend": null}
 }},
{"data": {"name": "segs"}, "mark": {"type": "rule", "color": "#000", "strokeWidth": 1.3},
 "encoding": {"x": {"field": "fc", "type": "quantitative"}, "y": {"field": "lp", "type": "quantitative"}, "x2": {"field": "fc2"}, "y2": {"field": "lp2"}}},
{"data": {"name": "volcano"}, "transform": [{"filter": {"field": "g", "oneOf": ["downhl", "marker", "uphl", "mye"]}}],
 "mark": {"type": "circle", "size": 44, "opacity": 1, "stroke": "#000", "strokeWidth": 1},
 "encoding": {"x": {"field": "fc", "type": "quantitative"}, "y": {"field": "lp", "type": "quantitative"}, "color": {"field": "g", "type": "nominal", "legend": null}}},
{"data": {"name": "labs"}, "transform": [{"filter": "datum.al === 'l' && datum.st === 'i'"}],
 "mark": {"type": "text", "fontSize": 14, "fontStyle": "italic", "align": "left", "baseline": "middle"},
 "encoding": {"x": {"field": "fc", "type": "quantitative"}, "y": {"field": "lp", "type": "quantitative"}, "text": {"field": "gene"}, "color": {"field": "g", "type": "nominal", "legend": null}}},
{"data": {"name": "labs"}, "transform": [{"filter": "datum.st === 'n'"}],
 "mark": {"type": "text", "fontSize": 14, "align": "left", "baseline": "middle"},
 "encoding": {"x": {"field": "fc", "type": "quantitative"}, "y": {"field": "lp", "type": "quantitative"}, "text": {"field": "gene"}, "color": {"field": "g", "type": "nominal", "legend": null}}},
{"data": {"name": "labs"}, "transform": [{"filter": "datum.al === 'r'"}],
 "mark": {"type": "text", "fontSize": 14, "fontStyle": "italic", "align": "right", "baseline": "middle"},
 "encoding": {"x": {"field": "fc", "type": "quantitative"}, "y": {"field": "lp", "type": "quantitative"}, "text": {"field": "gene"}, "color": {"field": "g", "type": "nominal", "legend": null}}}
]
},
{
"width": 362, "height": 453,
"view": {"stroke": null, "fill": "white"},
"title": {"text": "B", "anchor": "start", "frame": "group", "dx": 0, "fontSize": 16, "fontWeight": "bold", "offset": -19.65, "baseline": "alphabetic", "color": "#000"},
"resolve": {"scale": {"color": "independent"}},
"layer": [
{"data": {"values": [{"set": "DEG up", "vx": 0, "vy": 0}, {"set": "Myeloid markers", "vx": 1, "vy": 0}]},
 "mark": {"type": "point", "shape": "circle", "filled": true, "size": 45369, "opacity": 1, "strokeWidth": 0},
 "encoding": {
  "x": {"field": "vx", "type": "quantitative", "scale": {"domain": [-1.346, 2.037], "nice": false, "zero": false}, "axis": null},
  "y": {"field": "vy", "type": "quantitative", "scale": {"domain": [-3.0607, 1.1729], "nice": false, "zero": false}, "axis": null},
  "color": {"field": "set", "type": "nominal", "scale": {"domain": ["DEG up", "Myeloid markers"], "range": ["#F04242", "#6A76AE"]}, "legend": null}
 }},
{"data": {"values": [{"set": "DEG up ∩ Myeloid markers", "vx": 0.5, "vy": 0}]},
 "mark": {"type": "point", "shape": "M0,-0.866L0.109,-0.793L0.207,-0.707L0.293,-0.609L0.366,-0.5L0.424,-0.383L0.466,-0.259L0.491,-0.131L0.5,0L0.491,0.131L0.466,0.259L0.424,0.383L0.366,0.5L0.293,0.609L0.207,0.707L0.109,0.793L0,0.866L-0.109,0.793L-0.207,0.707L-0.293,0.609L-0.366,0.5L-0.424,0.383L-0.466,0.259L-0.491,0.131L-0.5,0L-0.491,-0.131L-0.466,-0.259L-0.424,-0.383L-0.366,-0.5L-0.293,-0.609L-0.207,-0.707L-0.109,-0.793Z", "filled": true, "size": 45796, "opacity": 1, "strokeWidth": 0},
 "encoding": {
  "x": {"field": "vx", "type": "quantitative"}, "y": {"field": "vy", "type": "quantitative"},
  "color": {"field": "set", "type": "nominal", "scale": {"range": ["#6B4679"]}, "legend": null}
 }},
{"data": {"values": [{"set": "DEG up", "vx": 0, "vy": 0}, {"set": "Myeloid markers", "vx": 1, "vy": 0}]},
 "mark": {"type": "point", "shape": "circle", "filled": false, "size": 45369, "opacity": 1, "color": "#000", "strokeWidth": 1.2},
 "encoding": {"x": {"field": "vx", "type": "quantitative"}, "y": {"field": "vy", "type": "quantitative"}}},
{"data": {"values": [{"set": "DEG up", "vx": -0.411, "vy": 1.136}, {"set": "Myeloid markers", "vx": 1.271, "vy": 1.136}]},
 "mark": {"type": "text", "fontSize": 16, "fontWeight": "bold", "align": "center", "baseline": "middle"},
 "encoding": {"x": {"field": "vx", "type": "quantitative"}, "y": {"field": "vy", "type": "quantitative"}, "text": {"field": "set"},
  "color": {"field": "set", "type": "nominal", "scale": {"domain": ["DEG up", "Myeloid markers"], "range": ["#EE1D23", "#27318B"]}, "legend": null}}},
{"data": {"values": [{"n": "692", "vx": -0.449, "vy": 0}, {"n": "7", "vx": 0.5, "vy": 0}, {"n": "5", "vx": 1.439, "vy": 0}]},
 "mark": {"type": "text", "fontSize": 19, "align": "center", "baseline": "middle", "color": "#111"},
 "encoding": {"x": {"field": "vx", "type": "quantitative"}, "y": {"field": "vy", "type": "quantitative"}, "text": {"field": "n"}}},
{"data": {"values": [{"vx": 0.5, "vy": -0.631, "vy2": -1.23}]},
 "mark": {"type": "rule", "color": "#000", "strokeWidth": 3},
 "encoding": {"x": {"field": "vx", "type": "quantitative"}, "y": {"field": "vy", "type": "quantitative"}, "y2": {"field": "vy2"}}},
{"data": {"values": [{"vx": 0.5, "vy": -1.259}]},
 "mark": {"type": "point", "shape": "triangle-down", "filled": true, "size": 121, "opacity": 1, "color": "#000"},
 "encoding": {"x": {"field": "vx", "type": "quantitative"}, "y": {"field": "vy", "type": "quantitative"}}},
{"data": {"values": [{"vx": -0.206, "vx2": 1.271, "vy": -1.304, "vy2": -2.678}]},
 "mark": {"type": "rect", "fill": "white", "stroke": "#1B2A5C", "strokeWidth": 2},
 "encoding": {"x": {"field": "vx", "type": "quantitative"}, "x2": {"field": "vx2"}, "y": {"field": "vy", "type": "quantitative"}, "y2": {"field": "vy2"}}},
{"data": {"values": [{"gene": "ITGAM(CD41)", "vx": -0.065, "vy": -1.472}, {"gene": "MPO", "vx": -0.065, "vy": -1.687}, {"gene": "TFRC(CD71)", "vx": -0.065, "vy": -1.893}, {"gene": "CD36", "vx": -0.065, "vy": -2.089}, {"gene": "CD14", "vx": -0.065, "vy": -2.294}, {"gene": "ITGAM(CD11B)", "vx": -0.065, "vy": -2.5}]},
 "mark": {"type": "text", "fontSize": 18, "fontStyle": "italic", "align": "left", "baseline": "middle", "color": "#000"},
 "encoding": {"x": {"field": "vx", "type": "quantitative"}, "y": {"field": "vy", "type": "quantitative"}, "text": {"field": "gene"}}}
]
}
], "spacing": 50, "resolve": {"scale": {"color": "independent", "x": "independent", "y": "independent"}, "legend": {"color": "independent"}}},
{"hconcat": [
{"width": 111, "height": 422, "data": {"values": []}, "mark": "point", "view": {"stroke": null, "fill": "white"}},
{
"width": 222, "height": 391,
"view": {"stroke": "#7A7A7A", "strokeWidth": 1.4},
"title": {"text": "BP enrichment", "anchor": "start", "frame": "group", "fontSize": 11, "fontWeight": "normal", "offset": -14.5, "baseline": "alphabetic", "color": "#000"},
"data": {"values": [
{"term":"myeloid leukocyte activation","logp":49.29,"count":700,"q":45.3},
{"term":"cell activation","logp":45.64,"count":1500,"q":42.8},
{"term":"leukocyte activation","logp":44.07,"count":1390,"q":41.8},
{"term":"granulocyte activation","logp":42.44,"count":526,"q":40.2},
{"term":"neutrophil activation","logp":42.02,"count":526,"q":39.9},
{"term":"cell activation involved in immune response","logp":41.74,"count":820,"q":39.7},
{"term":"leukocyte activation involved in immune response","logp":40.43,"count":858,"q":38.7},
{"term":"neutrophil degranulation","logp":39.96,"count":410,"q":38.3},
{"term":"neutrophil activation involved in immune response","logp":39.6,"count":425,"q":38.0},
{"term":"myeloid cell activation involved in immune response","logp":39.37,"count":592,"q":37.8},
{"term":"leukocyte degranulation","logp":38.82,"count":592,"q":37.4},
{"term":"myeloid leukocyte mediated immunity","logp":38.77,"count":592,"q":37.3},
{"term":"neutrophil mediated immunity","logp":38.43,"count":459,"q":37.1},
{"term":"regulated exocytosis","logp":37.37,"count":885,"q":36.0},
{"term":"exocytosis","logp":33.63,"count":1103,"q":30.9},
{"term":"exocytic process","logp":33.63,"count":1103,"q":30.9},
{"term":"vesicle fusion to plasma membrane","logp":33.63,"count":1103,"q":30.9}
]},
"mark": {"type": "circle", "opacity": 1},
"encoding": {
 "x": {"field": "logp", "type": "quantitative", "scale": {"domain": [32.86, 50.08], "nice": false, "zero": false},
  "axis": {"title": "−LogP", "values": [35, 37.5, 40, 42.5, 45, 47.5, 50], "labelExpr": "datum.value % 5 === 0 ? datum.label : ''", "labelFontSize": 12, "labelColor": "#1A1A1A", "labelPadding": 0, "labelFlush": false, "labelOverlap": false, "tickSize": 3, "tickColor": {"condition": {"test": "datum.value % 5 === 0", "value": "#333"}, "value": "transparent"}, "grid": true, "gridColor": "#EBEBEB", "gridWidth": {"condition": {"test": "datum.value % 5 === 0", "value": 1.1}, "value": 0.6}, "domain": false, "titleFontSize": 11, "titleFontWeight": "normal", "titleColor": "#000", "titleX": 111, "titleY": 20, "titleBaseline": "middle", "titleAlign": "center"}},
 "y": {"field": "term", "type": "nominal", "sort": null, "scale": {"type": "point", "padding": 0.6},
  "axis": {"title": "C", "titleX": -302, "titleY": 1.5, "titleAngle": 0, "titleAlign": "left", "titleBaseline": "middle", "titleFontSize": 18, "titleFontWeight": "bold", "titleColor": "#000", "labelFontSize": 12, "labelColor": "#1A1A1A", "labelPadding": 1, "labelLimit": 400, "tickSize": 3, "tickColor": "#333", "grid": true, "gridColor": "#EBEBEB", "gridWidth": 1.1, "domain": false}},
 "size": {"field": "count", "type": "quantitative", "scale": {"domain": [500, 1500], "range": [36, 177], "zero": false},
  "legend": {"title": "GeneCount", "orient": "none", "legendX": 230, "legendY": 122, "direction": "vertical", "values": [500, 750, 1000, 1250, 1500], "format": "d", "symbolType": "circle", "symbolFillColor": "#000", "symbolStrokeWidth": 0, "symbolOpacity": 1, "titleFontSize": 11, "titleFontWeight": "normal", "titleColor": "#000", "labelFontSize": 11, "labelColor": "#000", "labelOverlap": false, "rowPadding": 0.5, "padding": 0, "labelOffset": 7}},
 "color": {"field": "q", "type": "quantitative", "scale": {"domain": [30.9, 45.3], "range": ["blue", "red"], "interpolate": "lab"},
  "legend": {"title": "−Log.q.value", "orient": "none", "legendX": 230, "legendY": 210, "direction": "vertical", "values": [35, 40, 45], "gradientLength": 42, "gradientThickness": 9, "gradientStrokeWidth": 0, "titleFontSize": 11, "titleFontWeight": "normal", "titleColor": "#000", "labelFontSize": 11, "labelColor": "#000", "labelOverlap": false, "padding": 0}}
}
}
], "spacing": 0, "resolve": {"scale": {"color": "independent", "size": "independent", "x": "independent", "y": "independent"}, "legend": {"color": "independent", "size": "independent"}}},
{"hconcat": [
{"width": 110, "height": 1, "data": {"values": []}, "mark": "point", "view": {"stroke": null, "fill": "white"}},
{
"width": 189, "height": 384,
"view": {"stroke": "#7A7A7A", "strokeWidth": 1.4},
"title": {"text": "ToppCell Atlas enrichment", "anchor": "start", "frame": "group", "fontSize": 11, "fontWeight": "normal", "offset": -21.4, "baseline": "alphabetic", "color": "#000"},
"data": {"values": [
{"cell":"(32)_CD14+_Monocyte/BM","logp":75.4,"count":74,"q":72.1},
{"cell":"(3)myeloid|World/BM","logp":72.3,"count":67,"q":69.5},
{"cell":"(00)_Monocyte|World/PB","logp":67.5,"count":66,"q":66},
{"cell":"(0)_Myeloid−(00)_Monocyte|(0)_Myeloid/PB","logp":66.1,"count":66,"q":64.5},
{"cell":"(0)_Myeloid−(000)_CD14+_Monocyte|(0)_Myeloid/PB","logp":64.8,"count":66,"q":63.5},
{"cell":"(000)_CD14+_Monocyte|World/PB","logp":64.7,"count":66,"q":63.3},
{"cell":"(0)_Myeloid|World/PB","logp":64.5,"count":66,"q":63.2},
{"cell":"(3)myeloid−(32)_CD14+_Monocyte|(3)myeloid/BM","logp":59.2,"count":62,"q":58},
{"cell":"(0)_Myeloid−(000)_CD14+_Monocyte|(00)_Monocyte/PB","logp":52.1,"count":56,"q":51.5},
{"cell":"(33)_CD16+_Monocyte|World/BM","logp":42.4,"count":52.5,"q":42},
{"cell":"(30)_CD34+_Monoblast|World/BM","logp":39.9,"count":51,"q":40},
{"cell":"(2)_NK/T−(23)_CD4+_T_cell−(231)_CD4+/PB","logp":36.9,"count":47,"q":37},
{"cell":"(001)_CD16+_Monocyte|World/PB","logp":33.4,"count":42,"q":32.4},
{"cell":"(31)_CD34+_Myeloblast|World/BM","logp":32.3,"count":37,"q":32.4}
]},
"mark": {"type": "circle", "opacity": 1},
"encoding": {
 "x": {"field": "logp", "type": "quantitative", "scale": {"domain": [30.2, 77.5], "nice": false, "zero": false},
  "axis": {"title": "−LogP", "values": [35, 40, 45, 50, 55, 60, 65, 70, 75], "labelExpr": "datum.value % 10 === 0 ? datum.label : ''", "labelFontSize": 12, "labelColor": "#1A1A1A", "labelPadding": 0, "labelFlush": false, "labelOverlap": false, "tickSize": 3, "tickColor": {"condition": {"test": "datum.value % 10 === 0", "value": "#333"}, "value": "transparent"}, "grid": true, "gridColor": "#EBEBEB", "gridWidth": {"condition": {"test": "datum.value % 10 === 0", "value": 1.1}, "value": 0.6}, "domain": false, "titleFontSize": 11, "titleFontWeight": "normal", "titleColor": "#000", "titleX": 96, "titleY": 20, "titleBaseline": "middle", "titleAlign": "center"}},
 "y": {"field": "cell", "type": "nominal", "sort": null, "scale": {"type": "point", "padding": 0.6},
  "axis": {"title": "D", "titleX": -333, "titleY": -6, "titleAngle": 0, "titleAlign": "left", "titleBaseline": "middle", "titleFontSize": 18, "titleFontWeight": "bold", "titleColor": "#000", "labelFontSize": 12, "labelColor": "#1A1A1A", "labelPadding": 1, "labelLimit": 400, "tickSize": 3, "tickColor": "#333", "grid": true, "gridColor": "#EBEBEB", "gridWidth": 1.1, "domain": false}},
 "size": {"field": "count", "type": "quantitative", "scale": {"domain": [50, 70], "range": [75.7, 161], "zero": false},
  "legend": {"title": "GeneCount", "orient": "none", "legendX": 198, "legendY": 198, "direction": "vertical", "values": [50, 60, 70], "format": "d", "symbolType": "circle", "symbolFillColor": "#000", "symbolStrokeWidth": 0, "symbolOpacity": 1, "titleFontSize": 11, "titleFontWeight": "normal", "titleColor": "#000", "labelFontSize": 11, "labelColor": "#000", "labelOverlap": false, "rowPadding": 0.5, "padding": 0, "labelOffset": 7}},
 "color": {"field": "q", "type": "quantitative", "scale": {"domain": [32.4, 72.1], "range": ["blue", "red"], "interpolate": "lab"},
  "legend": {"title": "−Log.q.value", "orient": "none", "legendX": 198, "legendY": 129, "direction": "vertical", "values": [40, 50, 60, 70], "gradientLength": 43, "gradientThickness": 9, "gradientStrokeWidth": 0, "titleFontSize": 11, "titleFontWeight": "normal", "titleColor": "#000", "labelFontSize": 11, "labelColor": "#000", "labelOverlap": false, "padding": 0}}
}
}
], "spacing": 0, "resolve": {"scale": {"color": "independent", "size": "independent", "x": "independent", "y": "independent"}, "legend": {"color": "independent", "size": "independent"}}}
]
}
